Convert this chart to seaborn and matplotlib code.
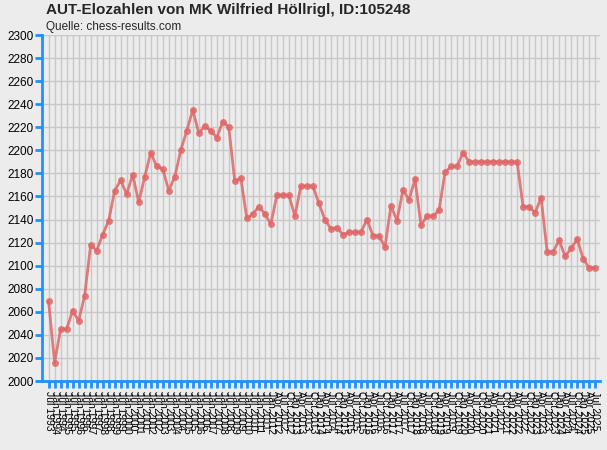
import matplotlib
matplotlib.use('Agg')
import matplotlib.pyplot as plt
import numpy as np
import pandas as pd
import seaborn as sns

# rating lists: half-yearly until Jan 2012, quarterly afterwards
half_year = [f'{m} {y}' for y in range(1993, 2012) for m in ('Jan', 'Jul')][1:] + ['Jan 2012']
quarterly = [f'{m} {y}' for y in range(2012, 2026) for m in ('Jan', 'Apr', 'Jul', 'Oct')][1:-1]
dates = half_year + quarterly

elo = [2069, 2016, 2045, 2045, 2061, 2052, 2074, 2118, 2113, 2127,
       2139, 2165, 2174, 2162, 2179, 2155, 2177, 2198, 2186, 2184,
       2165, 2177, 2200, 2217, 2235, 2215, 2221, 2217, 2211, 2225,
       2220, 2173, 2176, 2141, 2145, 2151, 2145, 2136, 2161, 2161,
       2161, 2143, 2169, 2169, 2169, 2154, 2140, 2132, 2133, 2127,
       2129, 2129, 2129, 2140, 2126, 2126, 2116, 2152, 2139, 2166,
       2157, 2175, 2135, 2143, 2143, 2148, 2181, 2186, 2186, 2198,
       2190, 2190, 2190, 2190, 2190, 2190, 2190, 2190, 2190, 2151,
       2151, 2146, 2159, 2112, 2112, 2122, 2108, 2115, 2123, 2106,
       2098, 2098]

df = pd.DataFrame({'Datum': dates, 'Elo': elo})
df['pos'] = np.arange(len(df))

bg = '#ececec'
blue = '#1e90ff'
sns.set_style('whitegrid', {'axes.facecolor': bg, 'figure.facecolor': bg,
                            'grid.color': '#c8c8c8', 'axes.edgecolor': blue})
plt.rcParams['font.family'] = ['Liberation Sans', 'DejaVu Sans']

fig = plt.figure(figsize=(6.07, 4.5), dpi=100)
ax = fig.add_axes([42 / 607, 69 / 450, 558 / 607, 346 / 450])

sns.lineplot(data=df, x='pos', y='Elo', color='#e06666', linewidth=2,
             marker='o', markersize=5, markeredgewidth=0, alpha=0.85, ax=ax)

ax.set_xlim(-1.1, len(df) - 0.2)
ax.set_ylim(2000, 2300)
ax.set_yticks(np.arange(2000, 2301, 20))
ax.set_xticks(df['pos'])
ax.set_xticklabels(df['Datum'], rotation=-90, fontsize=7.5)
ax.tick_params(axis='y', left=True, labelsize=8.5, colors=blue, labelcolor='black',
               length=5, width=2, pad=1)
ax.tick_params(axis='x', bottom=True, colors=blue, labelcolor='black',
               length=5, width=2, pad=2)
ax.set_xlabel('')
ax.set_ylabel('')
ax.grid(True, linewidth=1)

for s in ['left', 'bottom']:
    ax.spines[s].set_linewidth(2)
    ax.spines[s].set_color(blue)
for s in ['top', 'right']:
    ax.spines[s].set_visible(False)

fig.text(46 / 607, 1 - 10 / 450, 'AUT-Elozahlen von MK Wilfried Höllrigl, ID:105248',
         fontsize=11, fontweight='bold', va='center', ha='left')
fig.text(46 / 607, 1 - 27 / 450, 'Quelle: chess-results.com',
         fontsize=8.5, va='center', ha='left')

plt.savefig('out.png', dpi=100, facecolor=bg)
plt.close()
